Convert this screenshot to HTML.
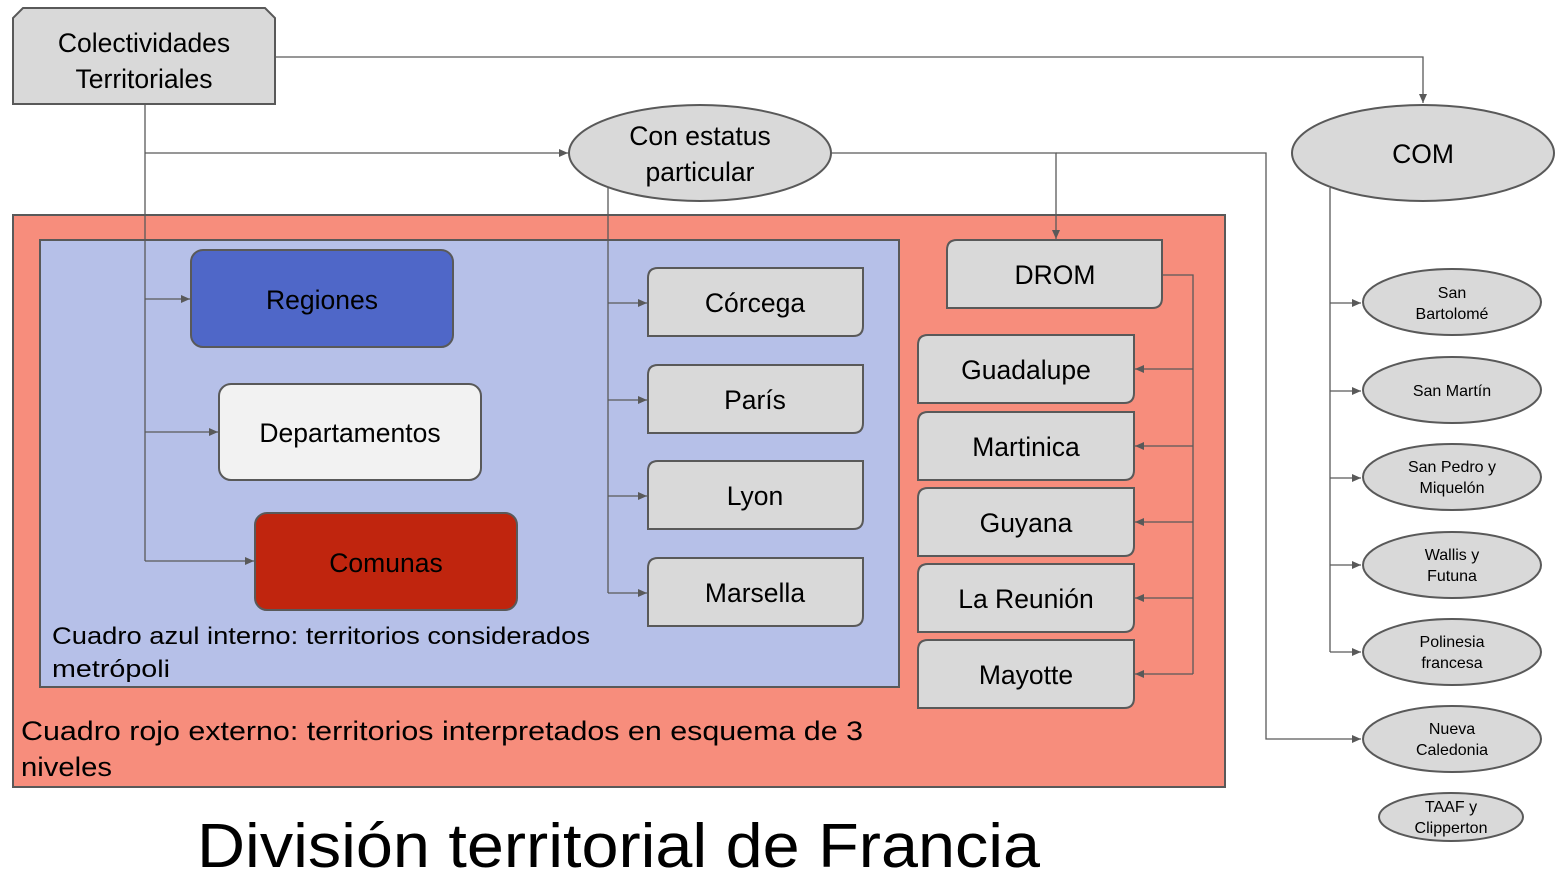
<!DOCTYPE html>
<html><head><meta charset="utf-8"><style>
html,body{margin:0;padding:0;background:#fff;}
svg{display:block;}
text{font-family:"Liberation Sans",sans-serif;fill:#000;}
</style></head><body>
<svg width="1555" height="888" viewBox="0 0 1555 888" xmlns="http://www.w3.org/2000/svg">
<defs>
<marker id="a" markerWidth="10" markerHeight="10" refX="9" refY="5" orient="auto" markerUnits="userSpaceOnUse">
<path d="M0,1 L9,5 L0,9 Z" fill="#595959"/></marker>
</defs>
<g fill="none" stroke="#595959" stroke-width="1.3">
<rect x="13" y="215" width="1212" height="572" fill="#f78d7c" stroke-width="2"/>
<rect x="40" y="240" width="859" height="447" fill="#b6c0e8" stroke-width="2"/>
</g>
<g fill="none" stroke="#595959" stroke-width="1.3">
<path d="M275,57 H1423 V103" marker-end="url(#a)"/>
<path d="M145,104 V561"/>
<path d="M145,153 H568" marker-end="url(#a)"/>
<path d="M145,299 H190" marker-end="url(#a)"/>
<path d="M145,432 H218" marker-end="url(#a)"/>
<path d="M145,561 H254" marker-end="url(#a)"/>
<path d="M608,188 V593"/>
<path d="M608,303 H647" marker-end="url(#a)"/>
<path d="M608,400 H647" marker-end="url(#a)"/>
<path d="M608,496 H647" marker-end="url(#a)"/>
<path d="M608,593 H647" marker-end="url(#a)"/>
<path d="M831,153 H1056 V239" marker-end="url(#a)"/>
<path d="M1056,153 H1266 V739 H1361" marker-end="url(#a)"/>
<path d="M1162,275 H1193 V674"/>
<path d="M1193,369 H1135" marker-end="url(#a)"/>
<path d="M1193,446 H1135" marker-end="url(#a)"/>
<path d="M1193,522 H1135" marker-end="url(#a)"/>
<path d="M1193,598 H1135" marker-end="url(#a)"/>
<path d="M1193,674 H1135" marker-end="url(#a)"/>
<path d="M1330,188 V652"/>
<path d="M1330,303 H1361" marker-end="url(#a)"/>
<path d="M1330,391 H1361" marker-end="url(#a)"/>
<path d="M1330,478 H1361" marker-end="url(#a)"/>
<path d="M1330,565 H1361" marker-end="url(#a)"/>
<path d="M1330,652 H1361" marker-end="url(#a)"/>
</g>
<g stroke="#595959" stroke-width="2">
<path d="M23,8 H265 L275,18 V104 H13 V18 Z" fill="#d9d9d9"/>
<ellipse cx="700" cy="153" rx="131" ry="48" fill="#d9d9d9"/>
<ellipse cx="1423" cy="153" rx="131" ry="48" fill="#d9d9d9"/>
<rect x="191" y="250" width="262" height="97" rx="12" fill="#4f67c8"/>
<rect x="219" y="384" width="262" height="96" rx="12" fill="#f2f2f2"/>
<rect x="255" y="513" width="262" height="97" rx="12" fill="#c0250e"/>
<g fill="#d9d9d9">
<path d="M658,268 H863 V326 Q863,336 853,336 H648 V278 Q648,268 658,268 Z"/>
<path d="M658,365 H863 V423 Q863,433 853,433 H648 V375 Q648,365 658,365 Z"/>
<path d="M658,461 H863 V519 Q863,529 853,529 H648 V471 Q648,461 658,461 Z"/>
<path d="M658,558 H863 V616 Q863,626 853,626 H648 V568 Q648,558 658,558 Z"/>
<path d="M957,240 H1162 V298 Q1162,308 1152,308 H947 V250 Q947,240 957,240 Z"/>
<path d="M928,335 H1134 V393 Q1134,403 1124,403 H918 V345 Q918,335 928,335 Z"/>
<path d="M928,412 H1134 V470 Q1134,480 1124,480 H918 V422 Q918,412 928,412 Z"/>
<path d="M928,488 H1134 V546 Q1134,556 1124,556 H918 V498 Q918,488 928,488 Z"/>
<path d="M928,564 H1134 V622 Q1134,632 1124,632 H918 V574 Q918,564 928,564 Z"/>
<path d="M928,640 H1134 V698 Q1134,708 1124,708 H918 V650 Q918,640 928,640 Z"/>
<ellipse cx="1452" cy="302" rx="89" ry="33"/>
<ellipse cx="1452" cy="390" rx="89" ry="33"/>
<ellipse cx="1452" cy="477" rx="89" ry="33"/>
<ellipse cx="1452" cy="565" rx="89" ry="33"/>
<ellipse cx="1452" cy="652" rx="89" ry="33"/>
<ellipse cx="1452" cy="739" rx="89" ry="33"/>
<ellipse cx="1451" cy="817" rx="72" ry="24"/>
</g>
</g>
<g text-anchor="middle" font-size="26.5">
<text x="144" y="52">Colectividades</text>
<text x="144" y="88">Territoriales</text>
<text x="700" y="145">Con estatus</text>
<text x="700" y="181">particular</text>
<text x="1423" y="163">COM</text>
<text x="322" y="309">Regiones</text>
<text x="350" y="442">Departamentos</text>
<text x="386" y="572">Comunas</text>
<text x="755" y="312">Córcega</text>
<text x="755" y="409">París</text>
<text x="755" y="505">Lyon</text>
<text x="755" y="602">Marsella</text>
<text x="1055" y="284">DROM</text>
<text x="1026" y="379">Guadalupe</text>
<text x="1026" y="456">Martinica</text>
<text x="1026" y="532">Guyana</text>
<text x="1026" y="608">La Reunión</text>
<text x="1026" y="684">Mayotte</text>
</g>
<g text-anchor="middle" font-size="16">
<text x="1452" y="298">San</text>
<text x="1452" y="319">Bartolomé</text>
<text x="1452" y="396">San Martín</text>
<text x="1452" y="472">San Pedro y</text>
<text x="1452" y="493">Miquelón</text>
<text x="1452" y="560">Wallis y</text>
<text x="1452" y="581">Futuna</text>
<text x="1452" y="647">Polinesia</text>
<text x="1452" y="668">francesa</text>
<text x="1452" y="734">Nueva</text>
<text x="1452" y="755">Caledonia</text>
<text x="1451" y="812">TAAF y</text>
<text x="1451" y="833">Clipperton</text>
</g>
<text x="52" y="644" font-size="24" textLength="538" lengthAdjust="spacingAndGlyphs">Cuadro azul interno: territorios considerados</text>
<text x="52" y="677" font-size="24" textLength="118" lengthAdjust="spacingAndGlyphs">metrópoli</text>
<text x="21" y="740" font-size="27" textLength="842" lengthAdjust="spacingAndGlyphs">Cuadro rojo externo: territorios interpretados en esquema de 3</text>
<text x="21" y="776" font-size="27" textLength="91" lengthAdjust="spacingAndGlyphs">niveles</text>
<text x="197" y="867" font-size="62" textLength="843" lengthAdjust="spacingAndGlyphs">División territorial de Francia</text>
</svg>
</body></html>
